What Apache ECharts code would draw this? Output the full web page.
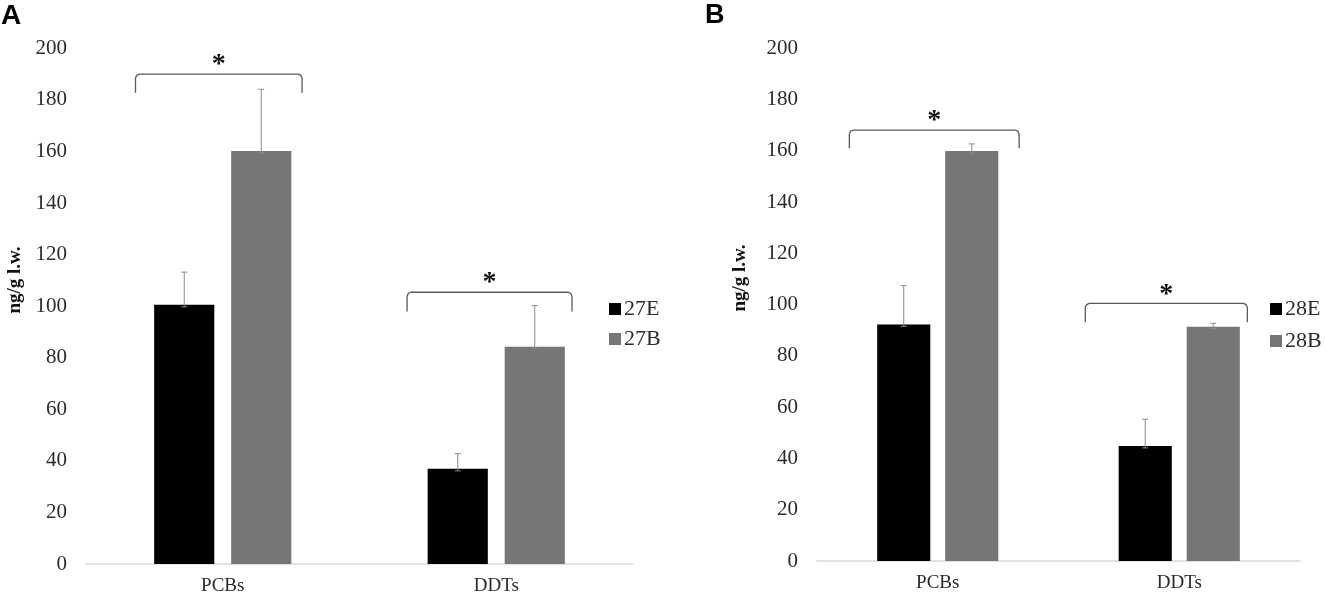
<!DOCTYPE html>
<html>
<head>
<meta charset="utf-8">
<script src="https://cdn.jsdelivr.net/npm/echarts@6/dist/echarts.min.js"></script>
<style>
html,body{margin:0;padding:0;background:#fff;}
#chart{width:1325px;height:600px;}
</style>
</head>
<body>
<div id="chart"></div>
<script>
// categories shared by both panels
var categories = ['PCBs', 'DDTs'];

// panel A (27)
var a27E = [100.5, 36.9];
var a27EErr = [12.7, 5.9];
var a27B = [160.2, 84.3];
var a27BErr = [23.9, 15.9];
var sigTopA = [190, 105.4];   // bracket bar height
var sigEndA = [182.8, 97.9];  // bracket leg end

// panel B (28)
var b28E = [92.3, 44.9];
var b28EErr = [15.1, 10.4];
var b28B = [159.9, 91.4];
var b28BErr = [2.8, 1.3];
var sigTopB = [168.1, 100.5];
var sigEndB = [161, 93.1];

var SERIF = '"Liberation Serif", "Times New Roman", serif';
var BLACK = '#000000', GRAY = '#767676';

// bar offset inside a category: barWidth 22%, barGap 28%
function errSeries(vals, errs, side, gi) {
  var data = vals.map(function (v, i) { return [i, v, errs[i]]; });
  return {
    type: 'custom', xAxisIndex: gi, yAxisIndex: gi, z: 5, silent: true,
    data: data,
    encode: { x: 0, y: 1 },
    renderItem: function (params, api) {
      var band = api.size([1, 0])[0];
      var off = side * (0.22 + 0.22 * 0.28) / 2 * band;
      var p0 = api.coord([api.value(0), api.value(1)]);
      var p1 = api.coord([api.value(0), api.value(1) + api.value(2)]);
      var x = p0[0] + off;
      var st = { stroke: '#8a8a8a', lineWidth: 1 };
      return {
        type: 'group', children: [
          { type: 'line', shape: { x1: x, y1: p0[1] + 2, x2: x, y2: p1[1] }, style: st },
          { type: 'line', shape: { x1: x - 3, y1: p1[1], x2: x + 3, y2: p1[1] }, style: st },
          { type: 'line', shape: { x1: x - 3, y1: p0[1] + 2, x2: x + 3, y2: p0[1] + 2 }, style: st }
        ]
      };
    }
  };
}

function sigSeries(tops, ends, spans, gi) {
  var data = tops.map(function (t, i) { return [i, t, ends[i]]; });
  return {
    type: 'custom', xAxisIndex: gi, yAxisIndex: gi, z: 6, silent: true,
    data: data,
    encode: { x: 0, y: 1 },
    renderItem: function (params, api) {
      var i = api.value(0);
      var band = api.size([1, 0])[0];
      var c = api.coord([i, api.value(1)]);
      var yb = api.coord([i, api.value(2)])[1];
      var l = c[0] + spans[i][0] * band, r = c[0] + spans[i][1] * band, t = c[1];
      return {
        type: 'group', children: [
          { type: 'polyline',
            shape: { points: [[l, yb], [l, t + 4], [l + 1.2, t + 1.2], [l + 4, t], [r - 4, t], [r - 1.2, t + 1.2], [r, t + 4], [r, yb]] },
            style: { stroke: '#5a5a5a', lineWidth: 1.3, fill: null } },
          { type: 'text', x: (l + r) / 2, y: t - 9,
            style: { text: '*', font: 'bold 28px ' + SERIF, fill: '#111', align: 'center', verticalAlign: 'middle' } }
        ]
      };
    }
  };
}

function yAx(gi) {
  return {
    gridIndex: gi, type: 'value', min: 0, max: 200, interval: 20,
    axisLine: { show: false }, axisTick: { show: false }, splitLine: { show: false },
    axisLabel: { fontFamily: SERIF, fontSize: 21, color: '#2b2b2b', margin: 19 }
  };
}
function xAx(gi) {
  return {
    gridIndex: gi, type: 'category', data: categories,
    axisLine: { lineStyle: { color: '#d9d9d9', width: 1.5 } }, axisTick: { show: false },
    axisLabel: { fontFamily: SERIF, fontSize: 19, color: '#2b2b2b', margin: 13 }
  };
}
function barSeries(name, vals, color, gi) {
  return {
    name: name, type: 'bar', xAxisIndex: gi, yAxisIndex: gi, data: vals,
    barWidth: '22%', barGap: '28%', itemStyle: { color: color }, silent: true
  };
}
function legendAt(names, left, gap) {
  return {
    data: names, orient: 'vertical', left: left, top: 293, itemGap: gap,
    itemWidth: 12, itemHeight: 12, icon: 'rect', selectedMode: false,
    textStyle: { fontFamily: SERIF, fontSize: 22, color: '#2b2b2b', lineHeight: 22, padding: [0, 0, 0, -2] }
  };
}

var chart = echarts.init(document.getElementById('chart'));
chart.setOption({
  animation: false,
  backgroundColor: '#ffffff',
  grid: [
    { left: 86, top: 48.3, width: 547, height: 515.7 },
    { left: 817, top: 48.3, width: 483, height: 512.7 }
  ],
  xAxis: [xAx(0), xAx(1)],
  yAxis: [yAx(0), yAx(1)],
  legend: [legendAt(['27E', '27B'], 604, 8), legendAt(['28E', '28B'], 1265, 10)],
  graphic: [
    { type: 'text', left: 1, top: 2, style: { text: 'A', font: 'bold 28px "Liberation Sans", Arial, sans-serif', fill: '#000' } },
    { type: 'text', left: 705, top: 2, style: { text: 'B', font: 'bold 27px "Liberation Sans", Arial, sans-serif', fill: '#000' } },
    { type: 'text', x: 15, y: 280, rotation: Math.PI / 2,
      style: { text: 'ng/g l.w.', font: 'bold 19px ' + SERIF, fill: '#111', align: 'center', verticalAlign: 'middle' } },
    { type: 'text', x: 740, y: 278, rotation: Math.PI / 2,
      style: { text: 'ng/g l.w.', font: 'bold 19px ' + SERIF, fill: '#111', align: 'center', verticalAlign: 'middle' } }
  ],
  series: [
    barSeries('27E', a27E, BLACK, 0),
    barSeries('27B', a27B, GRAY, 0),
    barSeries('28E', b28E, BLACK, 1),
    barSeries('28B', b28B, GRAY, 1),
    errSeries(a27E, a27EErr, -1, 0),
    errSeries(a27B, a27BErr, 1, 0),
    errSeries(b28E, b28EErr, -1, 1),
    errSeries(b28B, b28BErr, 1, 1),
    sigSeries(sigTopA, sigEndA, [[-0.319, 0.290], [-0.326, 0.277]], 0),
    sigSeries(sigTopB, sigEndB, [[-0.366, 0.337], [-0.389, 0.282]], 1)
  ]
});
</script>
</body>
</html>
